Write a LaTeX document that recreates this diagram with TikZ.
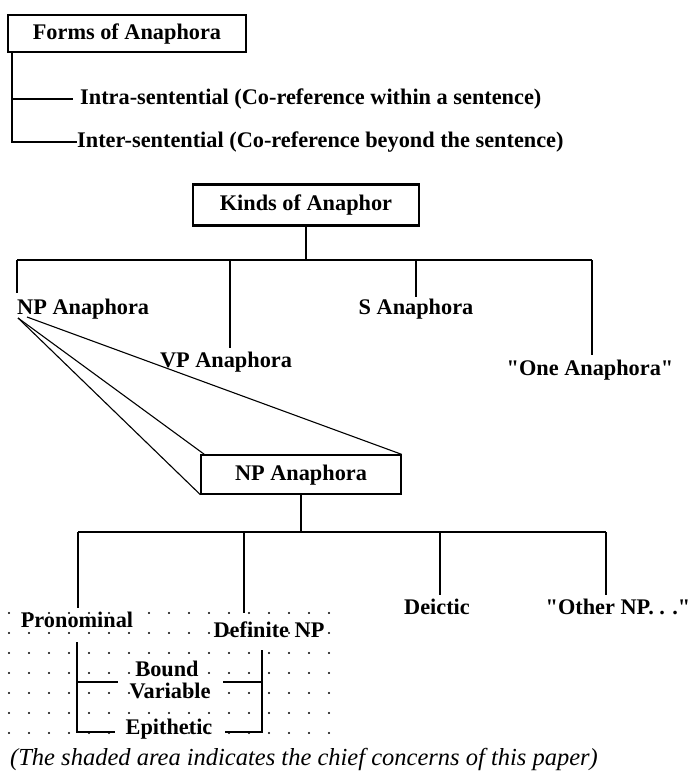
\documentclass[tikz,border=0pt]{standalone}
\usepackage{fontspec}
\setmainfont{Liberation Serif}
\newcommand\straightq{\XeTeXglyph\XeTeXcharglyph"22 }
\begin{document}
\begin{tikzpicture}[x=1pt,y=-1pt,
  lbl/.style={font=\fontsize{22.3}{26}\bfseries\selectfont, inner sep=0pt},
  box/.style={lbl, draw, line width=2.2pt, text height=15pt, text depth=4pt},
  tree/.style={line width=2.4pt},
  persp/.style={line width=1.1pt},
  capt/.style={font=\fontsize{24.5}{28}\itshape\selectfont, inner sep=0pt}]
\useasboundingbox (0,0) rectangle (690,771);

% ---------- dotted (shaded) area ----------
\foreach \i in {0,...,16}{
  \foreach \j in {0,...,6}{
    \fill ({9+20*\i},{613+20*\j}) circle (1.1pt);
  }
}

% ---------- Forms of Anaphora ----------
\node[box, minimum width=238pt, minimum height=37pt] (forms) at (127,33.5) {Forms of Anaphora};
\node[lbl, anchor=base west] (intra) at (80,104.5) {Intra-sentential (Co-reference within a sentence)};
\node[lbl, anchor=base west] (inter) at (77,147.5) {Inter-sentential (Co-reference beyond the sentence)};
\coordinate (ftop) at (12,52);
\draw[tree] (ftop) |- (inter.west);
\draw[tree] (ftop |- intra.west) -- ([xshift=-7pt]intra.west);

% ---------- Kinds of Anaphor ----------
\node[box, minimum width=226pt, minimum height=41pt] (kinds) at (306,205) {Kinds of Anaphor};
\coordinate (barL) at (17,260);
\coordinate (barR) at (592,260);
\draw[tree] (kinds.south) -- (kinds.south |- barL);
\draw[tree] (barL) -- (barR);

\node[lbl, anchor=base west] (npa) at (17,314) {NP Anaphora};
\node[lbl, anchor=base] (vpa) at (226,367) {VP Anaphora};
\node[lbl, anchor=base] (sa) at (416,314) {S Anaphora};
\node[lbl, anchor=base] (onea) at (590,375) {\straightq One Anaphora\straightq};

\coordinate (npEnd) at (17,293);
\coordinate (vpEnd) at (230,348);
\coordinate (sEnd) at (416,297);
\coordinate (oneEnd) at (592,355);
\draw[tree] (npEnd |- barL) -- (npEnd);
\draw[tree] (vpEnd |- barL) -- (vpEnd);
\draw[tree] (sEnd |- barL) -- (sEnd);
\draw[tree] (barR) -- (oneEnd);

% ---------- NP Anaphora expansion ----------
\node[box, line width=1.3pt, minimum width=200pt, minimum height=39pt] (npbox) at (301,474.5) {NP Anaphora};
\coordinate (apex1) at (18,318);
\coordinate (apex2) at (27,317);
\draw[persp] (apex1) -- (npbox.south west);
\draw[persp] (apex1) -- ([xshift=4pt]npbox.north west);
\draw[persp] (apex2) -- (npbox.north east);

\coordinate (bbL) at (78,532);
\coordinate (bbR) at (606,532);
\draw[tree] (npbox.south) -- (npbox.south |- bbL);
\draw[tree] (bbL) -- (bbR);

\node[lbl, anchor=base] (pron) at (77,627) {Pronominal};
\node[lbl, anchor=base] (defnp) at (269,637) {Definite NP};
\node[lbl, anchor=base] (deic) at (437,614) {Deictic};
\node[lbl, anchor=base] (other) at (618,614) {\straightq Other NP. . .\straightq};

\coordinate (pronEnd) at (78,608);
\coordinate (defEnd) at (244,613);
\coordinate (deicEnd) at (440,595);
\coordinate (otherEnd) at (606,595);
\draw[tree] (bbL) -- (pronEnd);
\draw[tree] (defEnd |- bbL) -- (defEnd);
\draw[tree] (deicEnd |- bbL) -- (deicEnd);
\draw[tree] (bbR) -- (otherEnd);

% ---------- sub-kinds ----------
\node[lbl, anchor=base] (bound) at (167,676) {Bound};
\node[lbl, anchor=base] (variable) at (170,698) {Variable};
\node[lbl, anchor=base] (epith) at (169,734) {Epithetic};

\coordinate (pTop) at (77,642);
\coordinate (pBot) at (77,732);
\coordinate (dTop) at (262,650);
\coordinate (dBot) at (262,732);
\draw[tree] (pTop) -- (pBot) -- (115,732);
\draw[tree] (pTop |- 0,682) -- (118,682);
\draw[tree] (dTop) -- (dBot) -- (225,732);
\draw[tree] (dTop |- 0,682) -- (223,682);

% ---------- caption ----------
\node[capt, anchor=base west] (cap) at (10,765) {(The shaded area indicates the chief concerns of this paper)};
\end{tikzpicture}
\end{document}
